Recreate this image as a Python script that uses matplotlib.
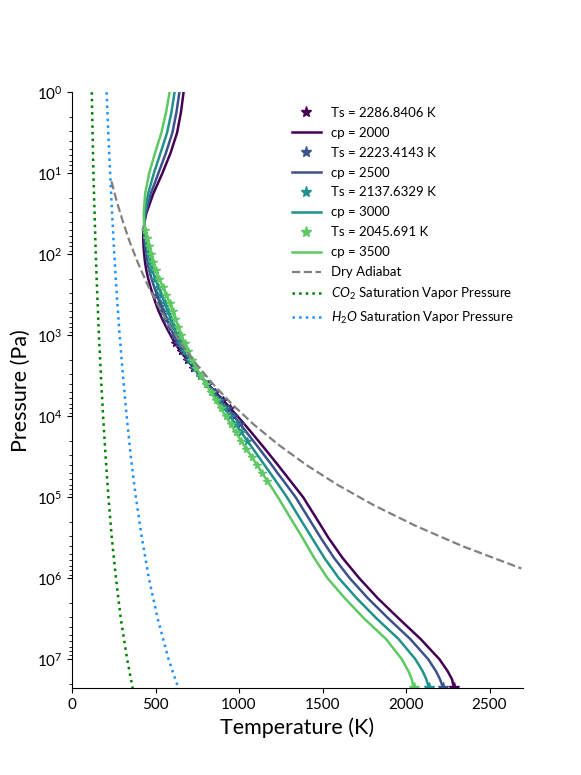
import numpy as np
from matplotlib import pyplot as plt

plt.rcParams['font.family'] = ['Lato', 'DejaVu Sans']
plt.rcParams['mathtext.fontset'] = 'custom'
plt.rcParams['mathtext.rm'] = 'Lato'
plt.rcParams['mathtext.it'] = 'Lato:italic'
plt.rcParams['mathtext.bf'] = 'Lato:bold'

# log10 of pressure (Pa) where the profiles were read
log_p = [0.0, 0.25, 0.5, 0.75, 1.0, 1.25, 1.5, 1.6, 1.7, 1.8, 1.9, 2.0, 2.1, 2.2, 2.3, 2.4, 2.5,
         2.6, 2.7, 2.8, 2.9, 3.0, 3.1, 3.2, 3.3, 3.4, 3.5, 3.6, 3.7, 3.8, 3.9, 4.0, 4.1, 4.2, 4.3,
         4.4, 4.5, 4.6, 4.7, 4.8, 4.9, 5.0, 5.25, 5.5, 5.75, 6.0, 6.25, 6.5, 6.75, 7.0, 7.15,
         7.25, 7.358]

T_cp2000 = [668, 652, 629, 590, 541, 487, 444, 434, 428, 426, 428, 432, 437, 445, 456, 469, 484,
            500, 518, 540, 564, 590, 617, 650, 688, 726, 766, 812, 858, 903, 948, 991, 1033, 1074,
            1114, 1154, 1193, 1232, 1270, 1308, 1346, 1384, 1460, 1535, 1620, 1720, 1832, 1958,
            2087, 2200, 2250, 2276, 2286.8406]
T_cp2500 = [643, 625, 601, 562, 517, 472, 440, 433, 431, 432, 437, 444, 451, 462, 476, 491, 508,
            525, 543, 564, 586, 610, 634, 664, 697, 731, 768, 808, 850, 890, 931, 970, 1008, 1046,
            1083, 1121, 1158, 1195, 1230, 1267, 1303, 1339, 1414, 1489, 1569, 1663, 1773, 1896,
            2025, 2133, 2180, 2204, 2223.4143]
T_cp3000 = [614, 595, 569, 530, 490, 456, 434, 432, 434, 439, 448, 458, 468, 480, 498, 516, 535,
            554, 572, 591, 611, 632, 653, 679, 708, 738, 769, 804, 840, 875, 911, 946, 980, 1014,
            1048, 1083, 1117, 1152, 1186, 1220, 1254, 1287, 1361, 1436, 1511, 1598, 1706, 1825,
            1955, 2056, 2100, 2122, 2137.6329]
T_cp3500 = [584, 563, 535, 497, 462, 438, 429, 431, 437, 447, 459, 472, 485, 500, 521, 543, 564,
            584, 602, 619, 637, 655, 674, 695, 719, 744, 771, 800, 830, 860, 890, 920, 950, 980,
            1011, 1043, 1075, 1107, 1138, 1170, 1202, 1233, 1306, 1380, 1450, 1530, 1635, 1750,
            1880, 1975, 2015, 2035, 2045.691]

cp_values = [2000, 2500, 3000, 3500]
Ts_labels = ['2286.8406', '2223.4143', '2137.6329', '2045.691']
profiles = [T_cp2000, T_cp2500, T_cp3000, T_cp3500]
# index range of the starred (convective) levels for each profile
conv_ranges = [(22, 31), (16, 33), (11, 35), (8, 40)]

# dry adiabat
log_p_dry = [1.1, 1.35, 1.6, 1.85, 2.1, 2.35, 2.6, 2.85, 3.1, 3.35, 3.6, 3.85, 4.1, 4.35, 4.6,
             4.85, 5.1, 5.35, 5.6, 5.88]
T_dry = [236, 268, 305, 346, 393, 446, 507, 575, 653, 742, 843, 957, 1087, 1235, 1402, 1592,
         1808, 2054, 2333, 2691]

# saturation vapour pressure curves
log_p_sat = [0.0, 0.5, 1.0, 1.5, 2.0, 2.5, 3.0, 3.5, 4.0, 4.5, 5.0, 5.5, 6.0, 6.5, 7.0, 7.358]
T_co2 = [118, 123, 128, 135, 142, 151, 161, 173, 186, 201, 218, 238, 263, 292, 330, 363]
T_h2o = [207, 217, 228, 240, 253, 268, 285, 305, 327, 352, 382, 418, 460, 513, 578, 637]

colors = [plt.cm.viridis(v) for v in (0.0, 0.25, 0.5, 0.75)]

fig = plt.figure(figsize=(5.81, 7.75), dpi=100)
ax = fig.add_axes([0.124, 0.112, 0.776, 0.769])

p = 10 ** np.array(log_p)
for T, cp, ts, c, (i0, i1) in zip(profiles, cp_values, Ts_labels, colors, conv_ranges):
    ax.plot(T[-1], p[-1], '*', color=c, ms=8, label='Ts = ' + ts + ' K')
    ax.plot(T, p, color=c, lw=1.8, label='cp = ' + str(cp))
    ax.plot(T[i0:i1], p[i0:i1], '*', color=c, ms=5.5, label='_nolegend_')

ax.plot(T_dry, 10 ** np.array(log_p_dry), '--', color='gray', lw=1.6, label='Dry Adiabat')
ax.plot(T_co2, 10 ** np.array(log_p_sat), ':', color='green', lw=1.8,
        label='$CO_2$ Saturation Vapor Pressure')
ax.plot(T_h2o, 10 ** np.array(log_p_sat), ':', color='dodgerblue', lw=1.8,
        label='$H_2O$ Saturation Vapor Pressure')

ax.set_yscale('log')
ax.set_ylim(p[-1], 1)
ax.set_xlim(0, 2700)
ax.spines['top'].set_visible(False)
ax.spines['right'].set_visible(False)
ax.tick_params(labelsize=11)
ax.set_xlabel('Temperature (K)', fontsize=15.5)
ax.set_ylabel('Pressure (Pa)', fontsize=15.5)

fig.legend(loc='upper left', bbox_to_anchor=(0.493, 0.869), frameon=False, fontsize=9.5,
           labelspacing=0.6, handlelength=2.2, borderaxespad=0)

fig.savefig('out.png')
